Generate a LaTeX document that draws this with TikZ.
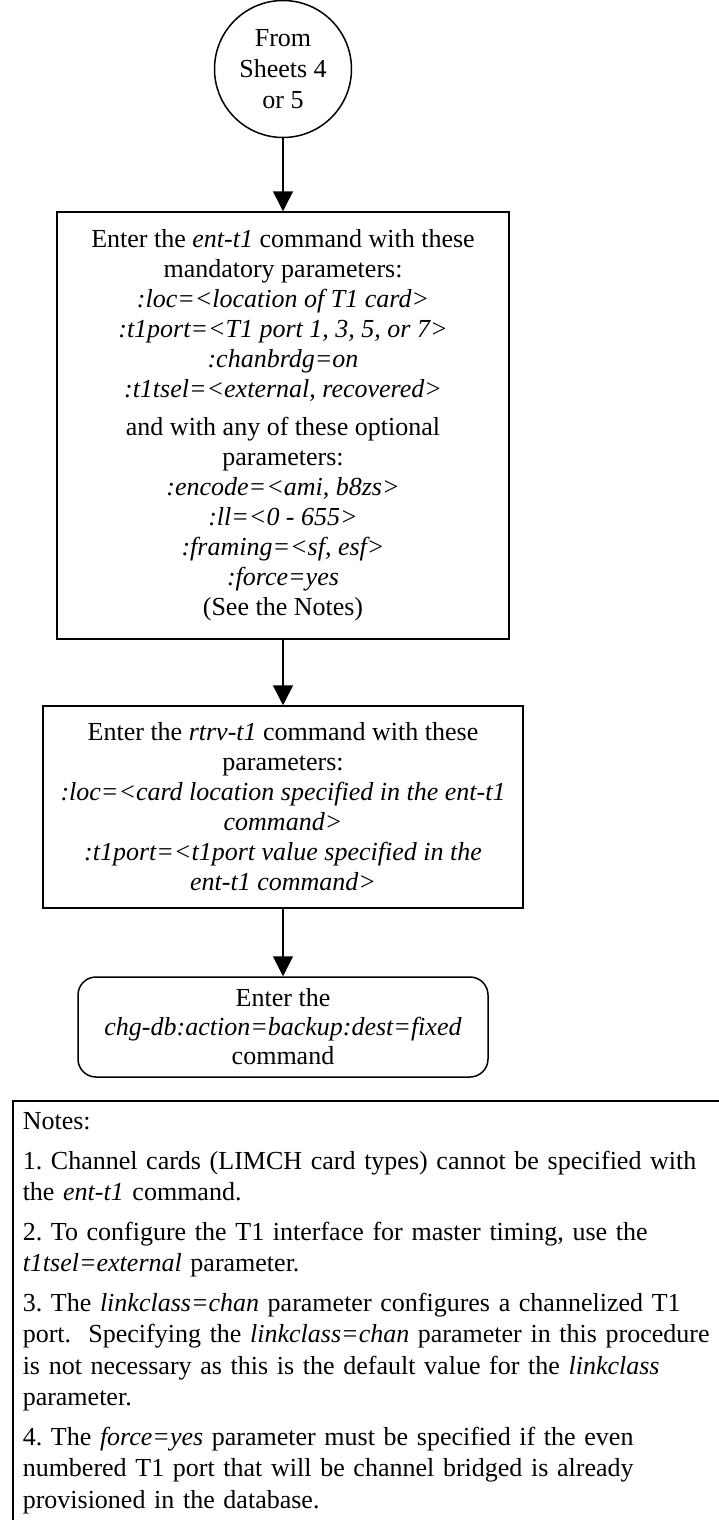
\documentclass[tikz,border=0pt]{standalone}
\usepackage{fontspec}
\setmainfont{Liberation Serif}
\usetikzlibrary{arrows.meta}
\frenchspacing
\begin{document}
\begin{tikzpicture}[x=1pt,y=1pt,
  txt/.style={font=\fontsize{26}{30}\selectfont},
  stepbox/.style={draw, line width=1.5pt, rectangle, align=center, inner sep=0pt, txt},
  arr/.style={line width=1.5pt, -{Triangle[length=20pt,width=20pt]}}]
\useasboundingbox (0,0) rectangle (719,-1520);
\node[draw, circle, line width=1.5pt, minimum size=137pt, inner sep=0pt, align=center,
      font=\fontsize{26}{31}\selectfont] (start) at (283,-69) {From\\Sheets 4\\or 5};
\node[stepbox, minimum width=452pt, minimum height=427pt] (ent) at (283,-425.5)
  {Enter the \textit{ent-t1} command with these\\
   mandatory parameters:\\
   \textit{:loc=<location of T1 card>}\\
   \textit{:t1port=<T1 port 1, 3, 5, or 7>}\\
   \textit{:chanbrdg=on}\\
   \textit{:t1tsel=<external, recovered>}\\[8pt]
   and with any of these optional\\
   parameters:\\
   \textit{:encode=<ami, b8zs>}\\
   \textit{:ll=<0 - 655>}\\
   \textit{:framing=<sf, esf>}\\
   \textit{:force=yes}\\
   (See the Notes)};
\node[stepbox, minimum width=480pt, minimum height=202pt] (rtrv) at (283,-807)
  {Enter the \textit{rtrv-t1} command with these\\
   parameters:\\
   \textit{:loc=<card location specified in the ent-t1}\\
   \textit{command>}\\
   \textit{:t1port=<t1port value specified in the}\\
   \textit{ent-t1 command>}};
\node[stepbox, rounded corners=18pt, minimum width=410pt, minimum height=100pt,
      font=\fontsize{26}{29}\selectfont] (chg) at (283,-1027)
  {Enter the\\
   \textit{chg-db:action=backup:dest=fixed}\\
   command};
\node[draw, line width=1.5pt, anchor=north west, minimum width=800pt,
      text width=780pt, align=left, inner xsep=10pt, inner ysep=12pt,
      font=\fontsize{26}{31.5}\selectfont] (notes) at (12,-1100)
  {Notes:\\[8pt]
   1. Channel cards (LIMCH card types) cannot be specified with\\
   the \textit{ent-t1} command.\\[8pt]
   2. To configure the T1 interface for master timing, use the\\
   \textit{t1tsel=external} parameter.\\[8pt]
   3. The \textit{linkclass=chan} parameter configures a channelized T1\\
   port.\ \ Specifying the \textit{linkclass=chan} parameter in this procedure\\
   is not necessary as this is the default value for the \textit{linkclass}\\
   parameter.\\[8pt]
   4. The \textit{force=yes} parameter must be specified if the even\\
   numbered T1 port that will be channel bridged is already\\
   provisioned in the database.\par};
\draw[arr] (start) -- (ent);
\draw[arr] (ent) -- (rtrv);
\draw[arr] (rtrv) -- (chg);
\end{tikzpicture}
\end{document}
